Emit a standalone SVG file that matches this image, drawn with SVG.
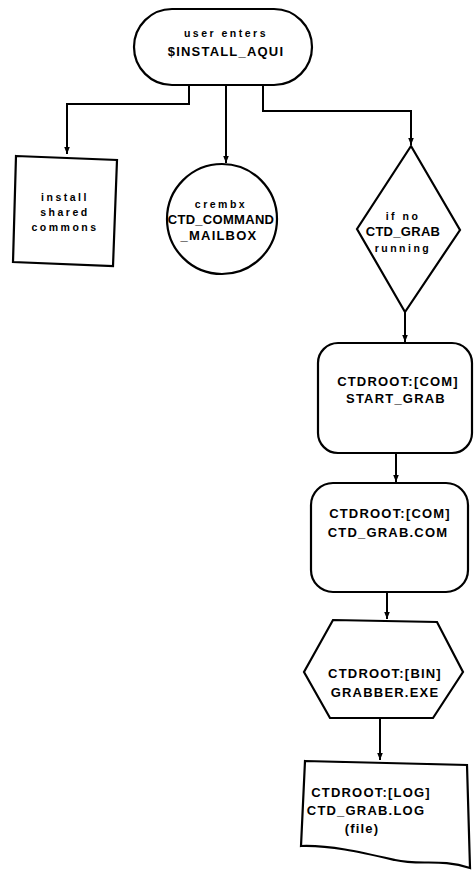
<svg xmlns="http://www.w3.org/2000/svg" width="474" height="875" viewBox="0 0 474 875">
<defs>
<marker id="arr" viewBox="0 0 10 10" refX="10" refY="5" markerWidth="3.5" markerHeight="3.5" orient="auto"><path d="M0,1 L10,5 L0,9 z" fill="#000"/></marker>
<style>
.s{fill:#fff;stroke:#000;stroke-width:2.2}
.c{fill:none;stroke:#000;stroke-width:2}
.t{font-family:"Liberation Sans",Arial,sans-serif;font-weight:bold;font-size:13px;letter-spacing:1.2px;fill:#000;text-anchor:middle}
.l{letter-spacing:2.5px;font-size:10.5px}
.n{letter-spacing:0.3px}
</style>
</defs>
<rect width="474" height="875" fill="#fff"/>
<g id="connectors">
<path class="c" d="M189,85 V104 H67 V154" marker-end="url(#arr)"/>
<path class="c" d="M226,85 V163" marker-end="url(#arr)"/>
<path class="c" d="M263,85 V111 H411 V145" marker-end="url(#arr)"/>
<path class="c" d="M405,312 V342" marker-end="url(#arr)"/>
<path class="c" d="M396,453 V482" marker-end="url(#arr)"/>
<path class="c" d="M387,592 V619" marker-end="url(#arr)"/>
<path class="c" d="M380,718 V760" marker-end="url(#arr)"/>
</g>
<g id="start">
<rect class="s" x="134" y="9" width="178" height="76" rx="38"/>
<text class="t l" x="226" y="37">user enters</text>
<text class="t" x="226" y="56">$INSTALL_AQUI</text>
</g>
<g id="install">
<path class="s" d="M16,156 L117,160 L113,266 L13,262 Z"/>
<text class="t l" x="65" y="201">install</text>
<text class="t l" x="65" y="216">shared</text>
<text class="t l" x="65" y="231">commons</text>
</g>
<g id="crembx">
<circle class="s" cx="222" cy="219" r="55"/>
<text class="t l" x="221" y="208">crembx</text>
<text class="t n" x="221" y="224">CTD_COMMAND</text>
<text class="t" x="219" y="240">_MAILBOX</text>
</g>
<g id="decision">
<path class="s" d="M411,146 L460,230 L405,312 L357,229 Z"/>
<text class="t l" x="403" y="220">if no</text>
<text class="t n" x="403" y="236">CTD_GRAB</text>
<text class="t l" x="403" y="252">running</text>
</g>
<g id="startgrab">
<rect class="s" x="318" y="343" width="154" height="110" rx="20"/>
<text class="t" x="398" y="386">CTDROOT:[COM]</text>
<text class="t" x="396" y="403">START_GRAB</text>
</g>
<g id="grabcom">
<rect class="s" x="311" y="483" width="157" height="109" rx="22"/>
<text class="t" x="390" y="518">CTDROOT:[COM]</text>
<text class="t" x="388" y="537">CTD_GRAB.COM</text>
</g>
<g id="grabber">
<path class="s" d="M333,620 L437,622 L463,672 L433,718 L330,718 L304,672 Z"/>
<text class="t" x="385" y="678">CTDROOT:[BIN]</text>
<text class="t" x="385" y="697">GRABBER.EXE</text>
</g>
<g id="logfile">
<path class="s" d="M305,761 L467,765 L470,868 C440,858 420,866 395,860 C360,852 330,845 301,846 Z"/>
<text class="t" x="371" y="797">CTDROOT:[LOG]</text>
<text class="t" x="366" y="815">CTD_GRAB.LOG</text>
<text class="t" x="362" y="833">(file)</text>
</g>
</svg>
